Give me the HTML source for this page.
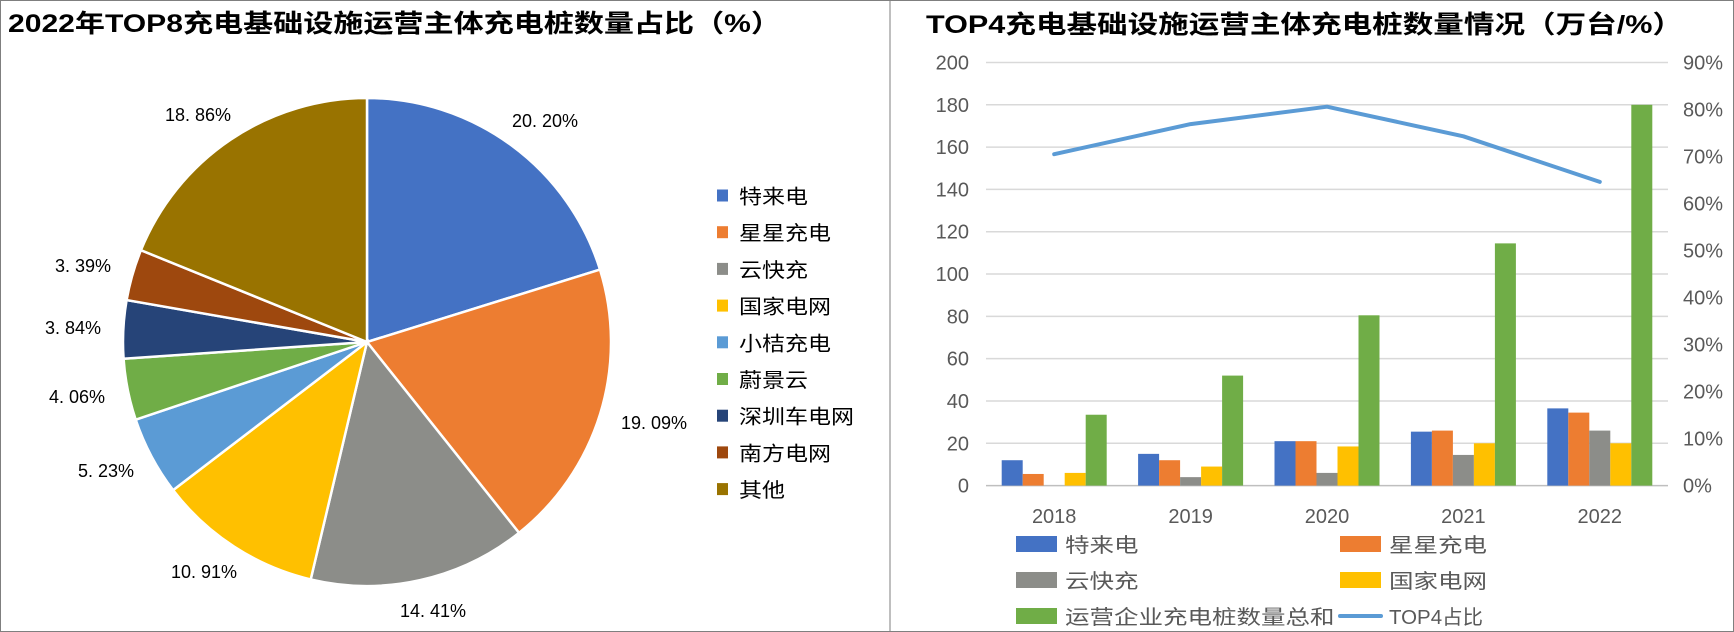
<!DOCTYPE html>
<html><head><meta charset="utf-8"><style>
html,body{margin:0;padding:0;background:#fff}
svg{display:block}
text{font-family:"Liberation Sans","Noto Sans CJK SC",sans-serif}
</style></head><body>
<svg id="c" width="1734" height="632" viewBox="0 0 1734 632" xmlns="http://www.w3.org/2000/svg">
<rect x="0.5" y="0.5" width="1733" height="631" fill="#fff" stroke="#7f7f7f"/>
<line x1="890" y1="0" x2="890" y2="632" stroke="#7f7f7f"/>
<text x="8" y="32" font-size="25" font-weight="bold" textLength="773" lengthAdjust="spacingAndGlyphs">2022年TOP8充电基础设施运营主体充电桩数量占比（%）</text>
<text x="926" y="33" font-size="25" font-weight="bold" textLength="757" lengthAdjust="spacingAndGlyphs">TOP4充电基础设施运营主体充电桩数量情况（万台/%）</text>
<g id="pie"></g>
<g id="bar"></g>
</svg>
<script>
const pieNames=["特来电","星星充电","云快充","国家电网","小桔充电","蔚景云","深圳车电网","南方电网","其他"];
const pieValues=[20.20,19.09,14.41,10.91,5.23,4.06,3.84,3.39,18.86];
const pieColors=["#4472c4","#ed7d31","#8c8d89","#ffc000","#5b9bd5","#70ad47","#264478","#9e480e","#997300"];

const years=["2018","2019","2020","2021","2022"];
const teld=[12,15,21,25.5,36.5];
const star=[5.5,12,21,26,34.5];
const ykc=[0,4,6,14.5,26];
const sgcc=[6,9,18.5,20,20];
const total=[33.5,52,80.5,114.5,180];
const top4Share=[70.5,76.9,80.6,74.3,64.6];
const leftTicks=[0,20,40,60,80,100,120,140,160,180,200];
const rightTicks=[0,10,20,30,40,50,60,70,80,90];

const NS="http://www.w3.org/2000/svg";
function mk(tag,attrs,parent,txt){const e=document.createElementNS(NS,tag);for(const k in attrs)e.setAttribute(k,attrs[k]);if(txt!==undefined)e.textContent=txt;parent.appendChild(e);return e;}

// PIE
const pie=document.getElementById('pie');
const cx=367,cy=342,R=244;
const labelPos=[[545,121],[654,423],[433,611],[204,572],[106,471],[77,397],[73,328],[83,266],[198,115]];
const sum=pieValues.reduce((a,b)=>a+b,0);
let ang=0;
pieValues.forEach((v,i)=>{
  const a0=ang, a1=ang+v/sum*2*Math.PI; ang=a1;
  const x0=cx+R*Math.sin(a0),y0=cy-R*Math.cos(a0),x1=cx+R*Math.sin(a1),y1=cy-R*Math.cos(a1);
  const large=(a1-a0)>Math.PI?1:0;
  const p=mk('path',{d:`M${cx},${cy}L${x0},${y0}A${R},${R} 0 ${large} 1 ${x1},${y1}Z`,fill:pieColors[i],stroke:'#fff','stroke-width':2.5},pie);
  
  
  const lp=labelPos[i];
  const t=mk('text',{x:lp[0],y:lp[1]+6,'font-size':18,'text-anchor':'middle',fill:'#000'},pie,pieValues[i].toFixed(2).replace('.','. ')+'%');
  
  
  const ly=195.5+i*36.7;
  const sw=mk('rect',{x:717,y:ly-6,width:11,height:12,fill:pieColors[i]},pie);
  
  
  const lt=mk('text',{x:739,y:ly+8,'font-size':20,fill:'#000',textLength:pieNames[i].length*23,lengthAdjust:'spacingAndGlyphs'},pie,pieNames[i]);
  
  
});

// BAR
const bar=document.getElementById('bar');
const px0=986,px1=1668,py0=485.6,py1=62.5;
const yL=v=>py0-(v/200)*(py0-py1);
const yR=v=>py0-(v/90)*(py0-py1);
const band=(px1-px0)/years.length;
const xc=i=>px0+band*(i+0.5);
leftTicks.forEach(t=>{
  const g=mk('line',{x1:px0,x2:px1,y1:yL(t),y2:yL(t),stroke:t===0?'#bfbfbf':'#d9d9d9','stroke-width':1.5},bar);
  
  
  const l=mk('text',{x:969,y:yL(t)+7,'font-size':20,'text-anchor':'end',fill:'#595959'},bar,String(t));
  
  
});
rightTicks.forEach(t=>{
  const l=mk('text',{x:1683,y:yR(t)+7,'font-size':20,fill:'#595959'},bar,t+'%');
  
  
});
const series=[teld,star,ykc,sgcc,total];
const sColors=["#4472c4","#ed7d31","#8c8d89","#ffc000","#70ad47"];
const bw=21;
years.forEach((y,i)=>{
  series.forEach((s,j)=>{
    const x=xc(i)-2.5*bw+j*bw;
    const r=mk('rect',{x:x,y:yL(s[i]),width:bw,height:py0-yL(s[i]),fill:sColors[j]},bar);
    
    
  });
  const l=mk('text',{x:xc(i),y:523,'font-size':20,'text-anchor':'middle',fill:'#595959'},bar,y);
  
  
});
const pts=top4Share.map((v,i)=>xc(i)+','+yR(v)).join(' ');
const pl=mk('polyline',{points:pts,fill:'none',stroke:'#5b9bd5','stroke-width':4,'stroke-linejoin':'round','stroke-linecap':'round'},bar);



const legItems=[["特来电",0,1016,544],["星星充电",1,1340,544],["云快充",2,1016,580],["国家电网",3,1340,580],["运营企业充电桩数量总和",4,1016,616]];
legItems.forEach(([n,j,x,y])=>{
  const s=mk('rect',{x:x,y:y-8,width:41,height:16,fill:sColors[j]},bar);
  
  
  const t=mk('text',{x:x+49,y:y+8,'font-size':20,fill:'#595959',textLength:n.length*24.5,lengthAdjust:'spacingAndGlyphs'},bar,n);
  
  
});
const ll=mk('line',{x1:1340,x2:1381,y1:616,y2:616,stroke:'#5b9bd5','stroke-width':4,'stroke-linecap':'round'},bar);


const lt=mk('text',{x:1389,y:624,'font-size':20,fill:'#595959',textLength:94,lengthAdjust:'spacingAndGlyphs'},bar,'TOP4占比');


</script>
</body></html>
